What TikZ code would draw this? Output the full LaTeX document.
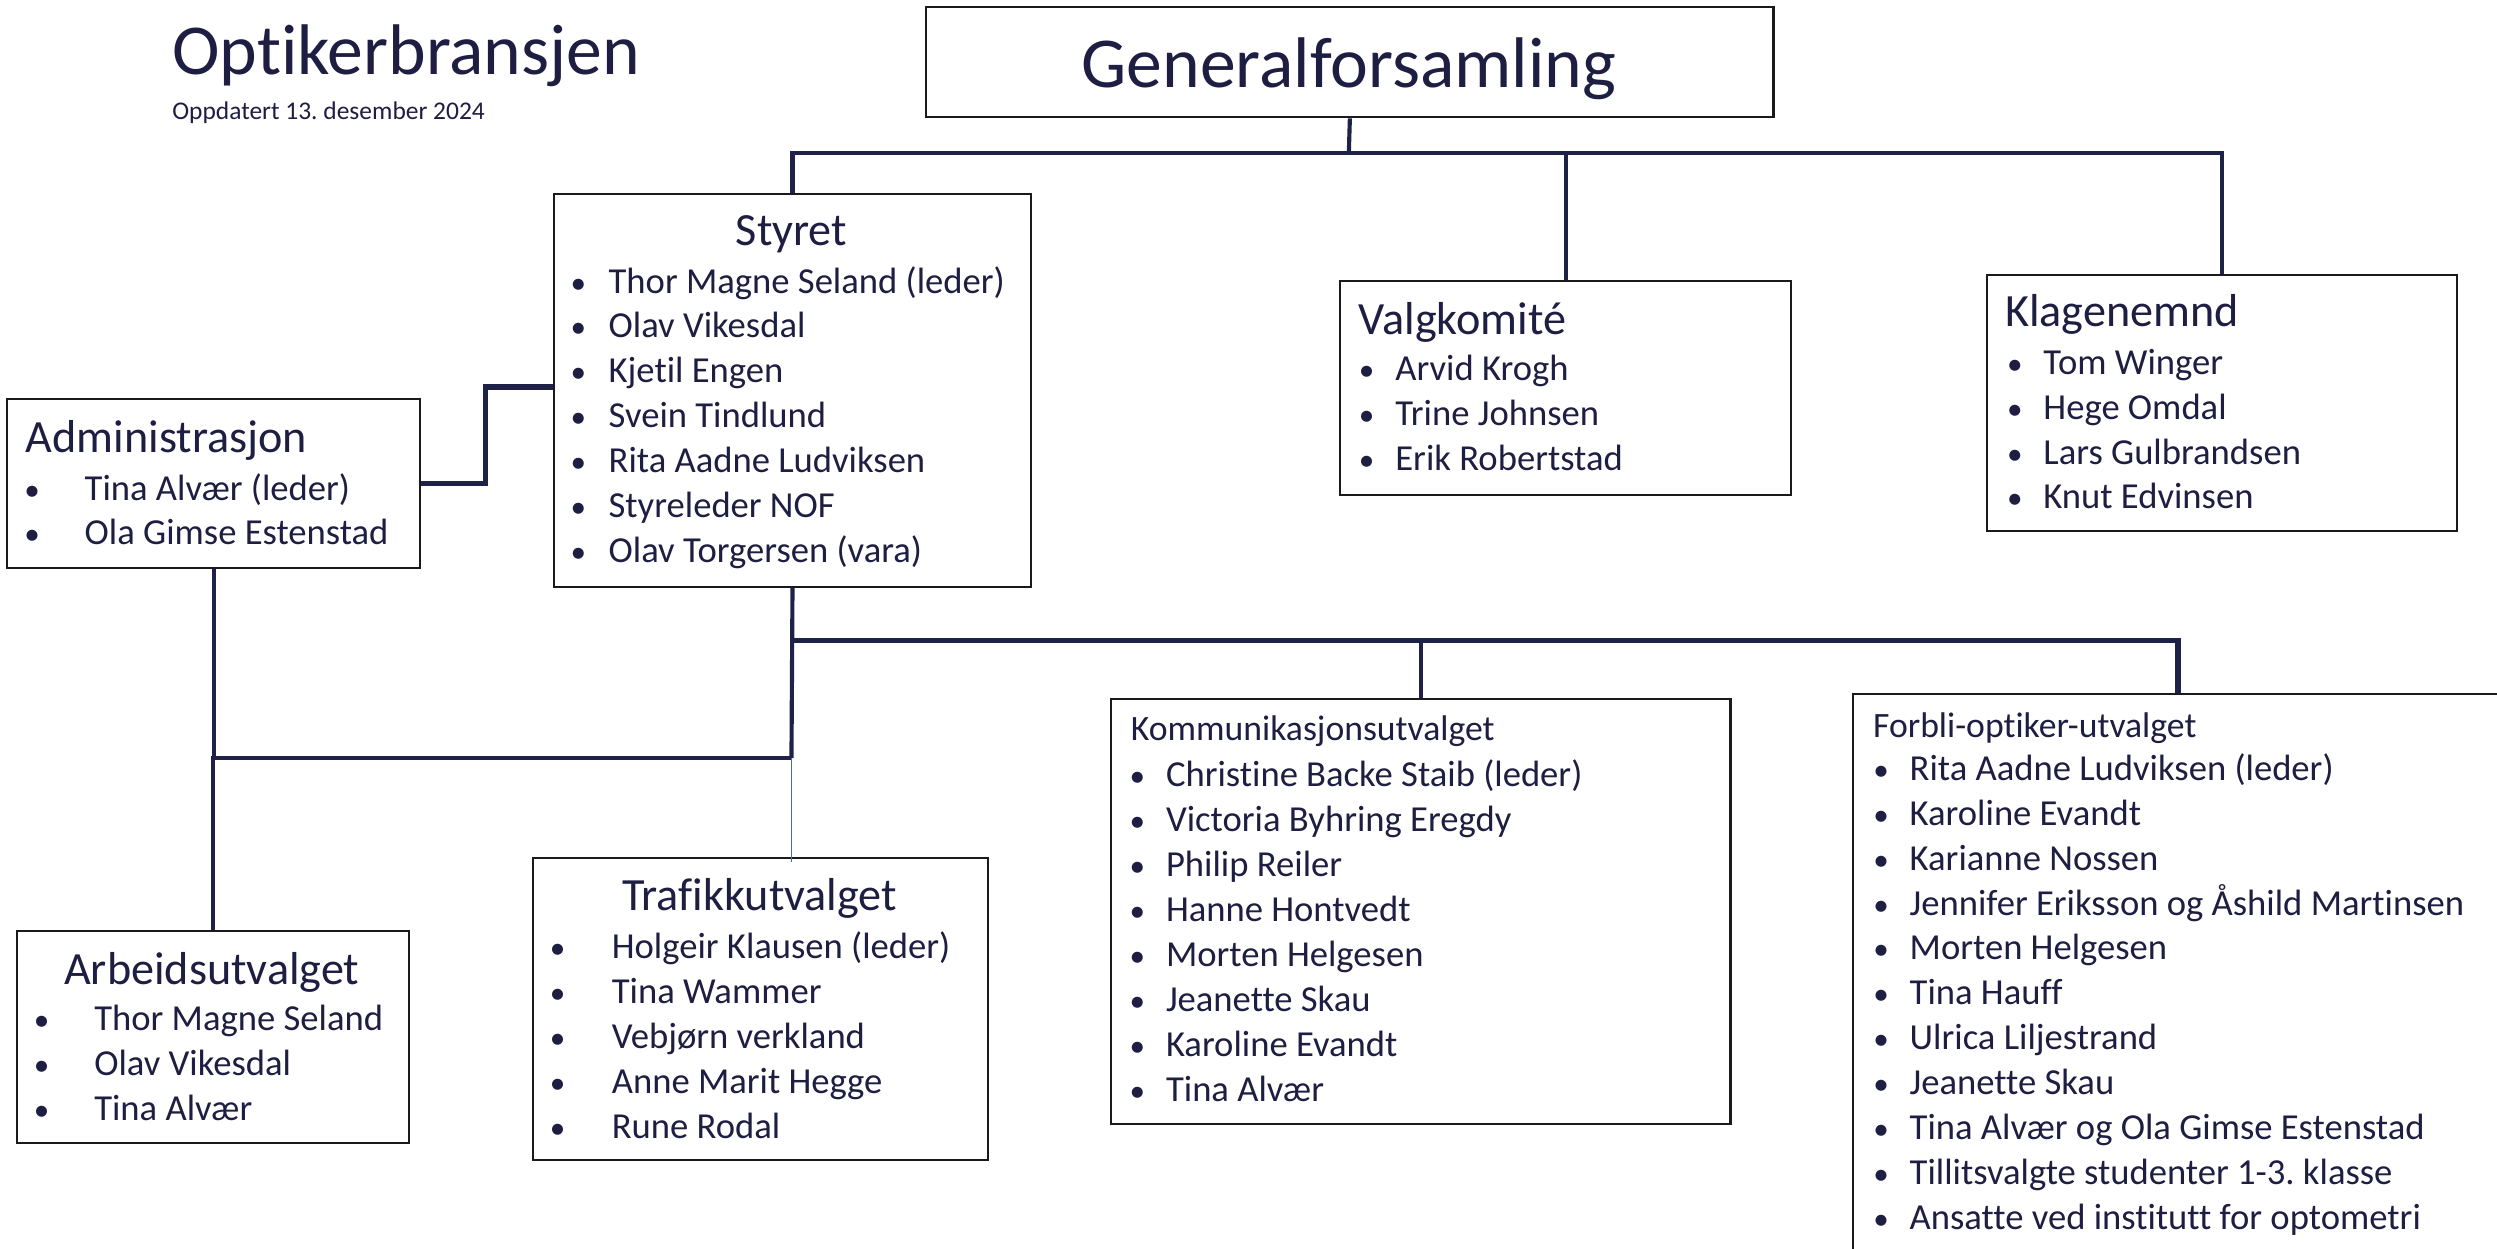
\documentclass[tikz,border=0pt]{standalone}
\usepackage{fontspec}
\usepackage{graphicx}
\setmainfont{Carlito}[Ligatures={NoCommon}]
\frenchspacing
\definecolor{txt}{RGB}{30,30,66}
\definecolor{itm}{RGB}{40,40,78}
\definecolor{conc}{RGB}{30,34,72}
\definecolor{boxc}{RGB}{25,25,30}
\definecolor{thinc}{RGB}{80,110,150}
\newcommand\bi[1][18pt]{\makebox[0pt]{\scalebox{0.85}{\textbullet}}\hspace{#1}}
\newcommand\itemfont{\fontsize{23}{28.2}\selectfont\color{itm}}
\newcommand\headfont{\fontsize{29}{34}\selectfont}
\newcommand\smallhead{\fontsize{22.4}{27}\selectfont}
\begin{document}
\begin{tikzpicture}[x=1pt,y=-1pt,
  box/.style={draw=boxc,line width=1.3pt,fill=white,inner sep=0pt,anchor=north west},
  lbl/.style={inner sep=0pt,text=txt},
  conn/.style={draw=conc,line width=2.6pt},
  connb/.style={draw=conc,line width=3.2pt},
  thin/.style={draw=thinc,line width=0.8pt}]
\useasboundingbox (0,0) rectangle (1568,784);
\clip (0,0) rectangle (1568,784);
\fill[white] (0,0) rectangle (1568,784);

% title
\node[lbl,anchor=base west,font=\fontsize{45}{54}\selectfont] (title) at (108,47) {Optikerbransjen};
\node[lbl,anchor=base west,font=\fontsize{16}{19}\selectfont] (sub) at (108,75) {Oppdatert 13. desember 2024};

% boxes
\node[box,minimum width=532pt,minimum height=69pt] (gf) at (581,4) {};
\node[box,minimum width=300pt,minimum height=247pt] (styret) at (347,121) {};
\node[box,minimum width=259pt,minimum height=106pt] (admin) at (4,250) {};
\node[box,minimum width=283pt,minimum height=134pt] (valg) at (841,176) {};
\node[box,minimum width=295pt,minimum height=161pt] (klag) at (1247,172) {};
\node[box,minimum width=246pt,minimum height=133pt] (arb) at (10,584) {};
\node[box,minimum width=286pt,minimum height=190pt] (traf) at (334,538) {};
\node[box,minimum width=389pt,minimum height=267pt] (komm) at (697,438) {};
\node[box,minimum width=408pt,minimum height=400pt] (forbli) at (1163,435) {};

% connectors
\coordinate (gfj) at (847,96);
\draw[conn] (gf.south) -- (gfj);
\draw[conn] (styret.north) -- (styret.north |- gfj) -- (klag.north |- gfj) -- (klag.north);
\draw[conn] (valg.north |- gfj) -- (valg.north);

\coordinate (asj) at (305,243);
\draw[connb] (admin.east) -| (asj) -- (asj -| styret.west);

\coordinate (sj) at (497,402);
\coordinate (lj) at (497,476);
\draw[connb] (sj) -- (sj -| forbli.north) -- (forbli.north);
\draw[conn] (sj -| komm.north) -- (komm.north);
\draw[conn] (styret.south) -- (lj);
\draw[conn] (lj) -- (lj -| arb.north) -- (arb.north);
\draw[conn] (admin.south) -- (admin.south |- lj);
\draw[thin] (lj) -- ([yshift=-3pt]lj |- traf.north) coordinate (tj);

% texts
\node[lbl,anchor=base,font=\fontsize{45}{54}\selectfont] (gft) at (847,55) {Generalforsamling};

\node[lbl,anchor=base,font=\headfont] (styreth) at (497,154) {Styret};
\node[lbl,anchor=base west,font=\itemfont] (styretl) at (363,184) {\begin{tabular}[t]{@{}l@{}}
\bi[19pt]Thor Magne Seland (leder)\\
\bi[19pt]Olav Vikesdal\\
\bi[19pt]Kjetil Engen\\
\bi[19pt]Svein Tindlund\\
\bi[19pt]Rita Aadne Ludviksen\\
\bi[19pt]Styreleder NOF\\
\bi[19pt]Olav Torgersen (vara)
\end{tabular}};

\node[lbl,anchor=base west,font=\headfont] (adminh) at (16,284) {Administrasjon};
\node[lbl,anchor=base west,font=\itemfont] (adminl) at (20,314) {\begin{tabular}[t]{@{}l@{}}
\bi[33pt]Tina Alvær (leder)\\
\bi[33pt]Ola Gimse Estenstad
\end{tabular}};

\node[lbl,anchor=base west,font=\headfont] (valgh) at (853,210) {Valgkomité};
\node[lbl,anchor=base west,font=\itemfont] (valgl) at (858,239) {\begin{tabular}[t]{@{}l@{}}
\bi Arvid Krogh\\
\bi Trine Johnsen\\
\bi Erik Robertstad
\end{tabular}};

\node[lbl,anchor=base west,font=\headfont] (klagh) at (1259,205) {Klagenemnd};
\node[lbl,anchor=base west,font=\itemfont] (klagl) at (1265,235) {\begin{tabular}[t]{@{}l@{}}
\bi Tom Winger\\
\bi Hege Omdal\\
\bi Lars Gulbrandsen\\
\bi Knut Edvinsen
\end{tabular}};

\node[lbl,anchor=base,font=\headfont] (arbh) at (133,618) {Arbeidsutvalget};
\node[lbl,anchor=base west,font=\itemfont] (arbl) at (26,647) {\begin{tabular}[t]{@{}l@{}}
\bi[33pt]Thor Magne Seland\\
\bi[33pt]Olav Vikesdal\\
\bi[33pt]Tina Alvær
\end{tabular}};

\node[lbl,anchor=base,font=\headfont] (trafh) at (477,572) {Trafikkutvalget};
\node[lbl,anchor=base west,font=\itemfont] (trafl) at (350,602) {\begin{tabular}[t]{@{}l@{}}
\bi[34pt]Holgeir Klausen (leder)\\
\bi[34pt]Tina Wammer\\
\bi[34pt]Vebjørn verkland\\
\bi[34pt]Anne Marit Hegge\\
\bi[34pt]Rune Rodal
\end{tabular}};

\node[lbl,anchor=base west,font=\smallhead] (kommh) at (710,465) {Kommunikasjonsutvalget};
\node[lbl,anchor=base west,font=\itemfont] (komml) at (714,494) {\begin{tabular}[t]{@{}l@{}}
\bi Christine Backe Staib (leder)\\
\bi Victoria Byhring Eregdy\\
\bi Philip Reiler\\
\bi Hanne Hontvedt\\
\bi Morten Helgesen\\
\bi Jeanette Skau\\
\bi Karoline Evandt\\
\bi Tina Alvær
\end{tabular}};

\node[lbl,anchor=base west,font=\smallhead] (forblih) at (1176,463) {Forbli-optiker-utvalget};
\node[lbl,anchor=base west,font=\itemfont] (forblil) at (1181,490) {\begin{tabular}[t]{@{}l@{}}
\bi Rita Aadne Ludviksen (leder)\\
\bi Karoline Evandt\\
\bi Karianne Nossen\\
\bi Jennifer Eriksson og Åshild Martinsen\\
\bi Morten Helgesen\\
\bi Tina Hauff\\
\bi Ulrica Liljestrand\\
\bi Jeanette Skau\\
\bi Tina Alvær og Ola Gimse Estenstad\\
\bi Tillitsvalgte studenter 1-3. klasse\\
\bi Ansatte ved institutt for optometri
\end{tabular}};
\end{tikzpicture}
\end{document}
